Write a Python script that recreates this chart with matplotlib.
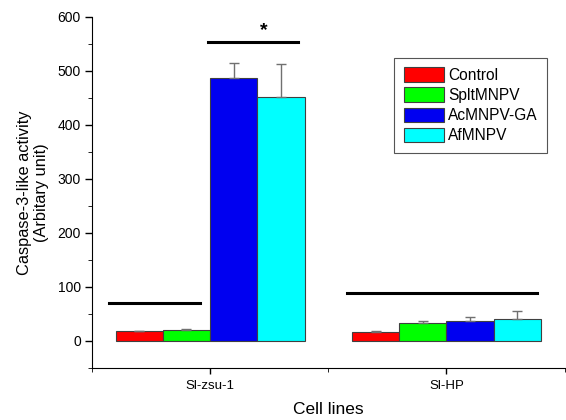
import numpy as np
import matplotlib
matplotlib.use('Agg')
import matplotlib.pyplot as plt
from matplotlib.ticker import MultipleLocator

plt.rcParams['font.family'] = ['Liberation Sans', 'DejaVu Sans']

# Dados
cell_lines = ['Sl-zsu-1', 'Sl-HP']
treatments = ['Control', 'SpltMNPV', 'AcMNPV-GA', 'AfMNPV']
colors = ['#ff0000', '#00ff00', '#0000f0', '#00ffff']
values = {
    'Control':   [18, 17],
    'SpltMNPV':  [21, 33],
    'AcMNPV-GA': [486, 37],
    'AfMNPV':    [452, 41],
}
errors = {
    'Control':   [1, 1],
    'SpltMNPV':  [1, 4],
    'AcMNPV-GA': [28, 8],
    'AfMNPV':    [61, 14],
}

# linhas de significância: (x inicial, x final, altura)
sig_lines = [(0.574, 0.958, 70), (0.989, 1.371, 554), (1.581, 2.383, 88)]
star_pos = (1.225, 575)

fig = plt.figure(figsize=(5.66, 4.2), dpi=100)
ax = fig.add_axes([0.1625, 0.124, 0.835, 0.836])

x = np.array([1, 2])
width = 0.2
for i, t in enumerate(treatments):
    ax.bar(x + (i - 1.5) * width, values[t], width, color=colors[i],
           edgecolor='#404040', linewidth=0.8, label=t,
           yerr=[np.zeros(2), errors[t]], ecolor='#707070',
           error_kw=dict(capsize=3.5, elinewidth=1, capthick=1))

for x0, x1, y in sig_lines:
    ax.plot([x0, x1], [y, y], color='black', linewidth=2.2)
ax.text(star_pos[0], star_pos[1], '*', ha='center', va='center', fontsize=14, fontweight='bold')

ax.set_xlim(0.5, 2.5)
ax.set_ylim(-50, 600)
ax.set_xticks(x)
ax.set_xticklabels(cell_lines, fontsize=9.5)
ax.xaxis.set_minor_locator(MultipleLocator(0.5))
ax.yaxis.set_major_locator(MultipleLocator(100))
ax.yaxis.set_minor_locator(MultipleLocator(50))
ax.set_yticks(range(0, 601, 100))
ax.tick_params(axis='y', labelsize=10, length=5, width=1, pad=3)
ax.tick_params(axis='y', which='minor', length=3)
ax.tick_params(axis='x', length=4, width=1, pad=5)
ax.tick_params(axis='x', which='minor', length=3)
ax.spines['top'].set_visible(False)
ax.spines['right'].set_visible(False)

ax.set_xlabel('Cell lines', fontsize=12.5, labelpad=7)
ax.set_ylabel('Caspase-3-like activity\n(Arbitary unit)', fontsize=11.8, labelpad=6)

leg = ax.legend(loc='upper right', bbox_to_anchor=(0.963, 0.883), fontsize=11.2,
                fancybox=False, edgecolor='#555555', handlelength=2.6,
                handleheight=1.05, labelspacing=0.3, handletextpad=0.25,
                borderpad=0.6, borderaxespad=0, framealpha=1)
leg.get_frame().set_linewidth(0.8)

plt.savefig('out.png', dpi=100)
